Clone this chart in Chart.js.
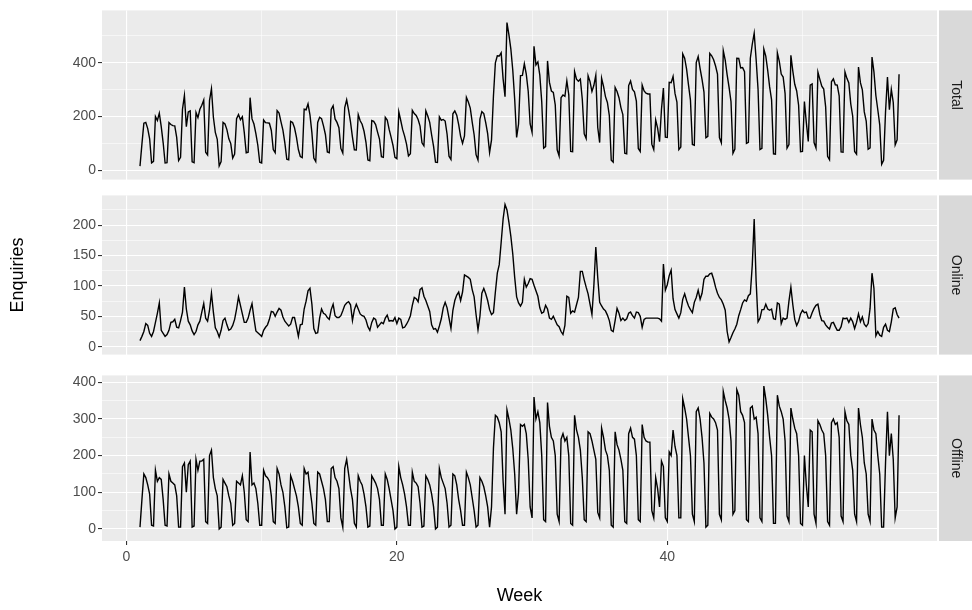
<!DOCTYPE html>
<html><head><meta charset="utf-8">
<script src="https://cdn.jsdelivr.net/npm/chart.js@4.4.1/dist/chart.umd.min.js"></script>
<style>
html,body{margin:0;padding:0;background:#fff;}
#wrap{position:relative;width:972px;height:610px;overflow:hidden;}
canvas{position:absolute;left:0;}
</style></head><body>
<div id="wrap">
<canvas id="c1" width="972" height="190" style="top:0px"></canvas>
<canvas id="c2" width="972" height="180" style="top:185px"></canvas>
<canvas id="c3" width="972" height="245" style="top:365px"></canvas>
</div>
<script>
const facetNames = ['Total', 'Online', 'Offline'];
const startWeek = 1;
const daysPerWeek = 7;
const xMajor = [0, 20, 40];
const xMinor = [10, 30, 50];
const totalMajor = [0, 200, 400];
const totalMinor = [100, 300, 500];
const onlineMajor = [0, 50, 100, 150, 200];
const onlineMinor = [25, 75, 125, 175, 225];
const offlineMajor = [0, 100, 200, 300, 400];
const offlineMinor = [50, 150, 250, 350];

const total = [
15,97,175,178,155,117,27, 33,200,185,212,162,102,27, 28,177,170,166,165,122,36, 48,227,278,162,217,221,31,
28,215,196,227,242,261,67, 57,260,303,197,141,115,16, 32,178,172,151,117,99,45, 60,192,207,188,199,140,65,
67,270,191,172,136,93,30, 27,187,177,176,175,148,77, 65,222,213,180,149,102,41, 39,182,178,158,123,77,51,
47,227,225,247,206,140,45, 32,178,197,192,165,133,68, 65,226,240,191,178,158,81, 64,233,262,224,179,123,76,
75,207,184,171,145,104,38, 35,185,182,170,142,116,50, 48,197,187,152,123,92,48, 43,217,185,151,127,97,53,
61,223,211,204,189,164,102, 91,221,202,178,131,89,30, 29,199,186,189,183,134,52, 40,210,221,205,170,126,100,
128,271,254,231,179,132,58, 38,190,218,211,177,136,66, 113,276,400,426,425,437,340, 274,550,505,452,373,264,122,
172,352,353,396,358,294,172, 141,461,392,403,354,255,82, 88,407,327,295,290,243,76, 53,270,280,275,333,281,70,
69,367,339,331,339,264,135, 118,352,330,293,316,354,159, 103,342,312,274,252,203,37, 30,308,293,270,233,207,63,
61,315,332,301,292,257,81, 70,317,295,287,284,284,97, 77,187,157,106,227,306,123, 122,327,326,349,286,254,77,
86,433,417,376,317,261,96, 93,401,423,378,338,291,121, 126,435,426,411,388,358,121, 102,445,410,355,308,255,63,
79,417,416,381,382,367,100, 104,417,469,510,413,301,77, 81,451,425,372,310,262,61, 60,437,405,358,347,285,82,
95,428,369,320,295,242,69, 70,256,177,107,317,321,103, 83,365,338,313,302,236,52, 39,329,340,318,317,277,68,
67,366,342,325,247,201,70, 60,384,326,299,217,183,78, 83,421,366,278,225,169,22, 37,217,347,225,301,252,94,
113,357
];

const online = [
10,17,25,38,35,22,17, 25,40,55,72,27,22,17, 20,27,40,41,45,32,31, 43,57,98,62,42,36,26,
20,25,36,42,57,71,47, 42,60,88,57,31,25,16, 27,43,47,36,27,29,35, 45,62,82,68,54,40,40,
47,60,71,47,26,23,20, 17,27,32,36,45,58,57, 50,57,63,60,49,42,38, 34,37,48,48,33,17,36,
37,62,75,92,96,70,30, 22,23,47,62,55,53,48, 45,61,70,51,48,48,51, 59,68,72,74,69,43,61,
70,62,54,51,50,44,33, 27,40,47,45,32,36,40, 38,47,52,42,43,42,48, 38,47,45,31,32,37,43,
51,68,81,79,74,94,97, 83,76,67,58,36,29,30, 24,34,46,64,73,64,47, 30,60,76,85,90,76,90,
118,116,114,111,94,82,53, 28,50,88,96,87,76,61, 53,56,90,121,135,172,210, 234,225,205,182,153,114,82,
72,67,73,111,98,104,112, 111,101,92,83,64,55,57, 68,62,47,45,50,43,36, 33,25,20,35,83,81,55,
59,57,69,81,124,124,110, 98,87,70,53,101,164,114, 73,67,62,59,52,43,27, 25,43,63,55,43,47,43,
46,55,57,51,47,57,56, 50,32,45,47,47,47,47, 47,47,47,46,42,136,93, 102,117,126,79,61,54,47,
56,78,87,76,67,61,56, 73,81,93,78,88,111,116, 116,120,121,111,98,88,81, 77,70,60,25,8,15,23,
29,37,51,61,72,77,75, 84,87,134,210,108,41,47, 61,61,70,62,60,62,46, 45,72,70,38,47,45,47,
75,98,69,45,35,42,54, 60,56,57,47,47,56,63, 68,70,53,43,42,36,32, 29,39,40,33,27,27,33,
47,46,47,40,47,41,30, 40,54,41,49,37,33,38, 63,121,96,18,25,19,17, 32,37,27,25,41,62,64,
53,47
];

const offline = [
5,80,150,140,120,95,10, 8,160,130,140,135,80,10, 8,150,130,125,120,90,5, 5,170,180,100,175,185,5,
8,190,160,185,185,190,20, 15,200,215,140,110,90,0, 5,135,125,115,90,70,10, 15,130,125,120,145,100,25,
20,210,120,125,110,70,10, 10,160,145,140,130,90,20, 15,165,150,120,100,60,3, 5,145,130,110,90,60,15,
10,165,150,155,110,70,15, 10,155,150,130,110,80,20, 20,165,170,140,130,110,30, 5,165,190,150,110,80,15,
5,145,130,120,95,60,5, 8,145,135,125,110,80,10, 10,150,135,110,80,50,0, 5,170,140,120,95,60,10,
10,155,130,125,115,70,5, 8,145,135,120,95,60,0, 5,165,140,125,110,70,5, 10,150,145,120,80,50,10,
10,155,140,120,85,50,5, 10,140,130,115,90,60,5, 60,220,310,305,290,265,130, 40,325,300,270,220,150,40,
100,285,280,285,260,190,60, 30,360,300,320,290,200,25, 20,345,280,250,240,200,40, 20,245,260,240,250,200,15,
10,310,270,250,215,140,25, 20,265,260,240,215,190,45, 30,275,250,215,200,160,10, 5,265,230,215,190,160,20,
15,260,275,250,245,200,25, 20,285,250,240,237,237,50, 30,140,110,60,185,170,30, 20,210,200,270,225,200,30,
30,355,330,300,250,200,40, 20,320,330,300,250,180,5, 10,315,305,300,290,270,40, 25,375,350,330,300,240,40,
50,380,365,320,310,290,25, 20,330,335,300,305,260,30, 20,390,355,310,250,200,15, 15,365,335,320,300,240,35,
20,330,300,275,260,200,15, 10,200,120,60,270,265,40, 15,295,285,270,260,200,20, 10,290,300,285,290,250,35,
20,320,295,285,200,160,40, 20,330,285,250,180,150,40, 20,300,270,260,200,150,5, 5,180,320,200,260,190,30,
60,310
];

const FONT = '"Liberation Sans", Arial, sans-serif';

const panelPlugin = {
  id: 'panel',
  beforeDraw(chart, args, o) {
    const ctx = chart.ctx, a = chart.chartArea;
    ctx.save();
    ctx.fillStyle = '#EBEBEB';
    ctx.fillRect(a.left, a.top, a.right - a.left, a.bottom - a.top);
    const sx = a.right + o.gap;
    ctx.fillStyle = '#D9D9D9';
    ctx.fillRect(sx, a.top, chart.width - sx, a.bottom - a.top);
    ctx.fillStyle = '#1A1A1A';
    ctx.font = '14px ' + FONT;
    ctx.translate((sx + chart.width) / 2, (a.top + a.bottom) / 2);
    ctx.rotate(Math.PI / 2);
    ctx.textAlign = 'center';
    ctx.textBaseline = 'middle';
    ctx.fillText(o.label, 0, 0);
    ctx.restore();
  }
};

function tickSet(major, minor) {
  return major.map(v => ({value: v, minor: false}))
    .concat(minor.map(v => ({value: v, minor: true})))
    .sort((p, q) => p.value - q.value);
}

function gridOpts() {
  return {
    color: '#FFFFFF',
    lineWidth: c => (c.tick && c.tick.minor) ? 0.55 : 1.1,
    tickColor: c => (c.tick && c.tick.minor) ? 'rgba(0,0,0,0)' : '#333333',
    tickWidth: 1.1,
    tickLength: 4,
    drawTicks: true
  };
}

function makeChart(id, name, values, yMin, yMax, yMajor, yMinor, pad, isBottom, yTitle) {
  const pts = values.map((v, i) => ({x: startWeek + i / daysPerWeek, y: v}));
  return new Chart(document.getElementById(id), {
    type: 'line',
    data: {datasets: [{label: name, data: pts, borderColor: '#000000', borderWidth: 1.4,
      pointRadius: 0, tension: 0, fill: false}]},
    plugins: [panelPlugin],
    options: {
      responsive: false, animation: false, devicePixelRatio: 1,
      layout: {padding: {top: pad.top, bottom: pad.bottom, left: 0, right: 35}},
      plugins: {legend: {display: false}, tooltip: {enabled: false},
        panel: {label: name, gap: 2}},
      scales: {
        x: {
          type: 'linear', min: -1.81, max: 59.95,
          afterBuildTicks: s => { s.ticks = tickSet(xMajor, xMinor); },
          afterFit: s => { s.height = isBottom ? 69 : 0; },
          grid: Object.assign(gridOpts(), {drawTicks: isBottom}),
          border: {display: false},
          ticks: {display: isBottom, autoSkip: false, maxRotation: 0, padding: 4,
            color: '#4D4D4D', font: {size: 14, family: FONT},
            callback: (v, i, t) => t[i].minor ? '' : String(v)},
          title: {display: isBottom, text: 'Week', color: '#000000',
            font: {size: 18, family: FONT}, padding: {top: 0, bottom: 3}}
        },
        y: {
          type: 'linear', min: yMin, max: yMax,
          afterBuildTicks: s => { s.ticks = tickSet(yMajor, yMinor); },
          afterFit: s => { s.width = 102; },
          grid: gridOpts(),
          border: {display: false},
          ticks: {autoSkip: false, padding: 2, color: '#4D4D4D',
            font: {size: 14, family: FONT},
            callback: (v, i, t) => t[i].minor ? '' : String(v)},
          title: {display: !!yTitle, text: yTitle || '', color: '#000000',
            font: {size: 18, family: FONT}, padding: {top: 7, bottom: 0}}
        }
      }
    }
  });
}

makeChart('c1', facetNames[0], total, -35, 595, totalMajor, totalMinor, {top: 10, bottom: 8}, false, null);
makeChart('c2', facetNames[1], online, -13, 249, onlineMajor, onlineMinor, {top: 4, bottom: 3}, false, 'Enquiries');
makeChart('c3', facetNames[2], offline, -33, 419, offlineMajor, offlineMinor, {top: 3, bottom: 0}, true, null);
</script>
</body></html>
